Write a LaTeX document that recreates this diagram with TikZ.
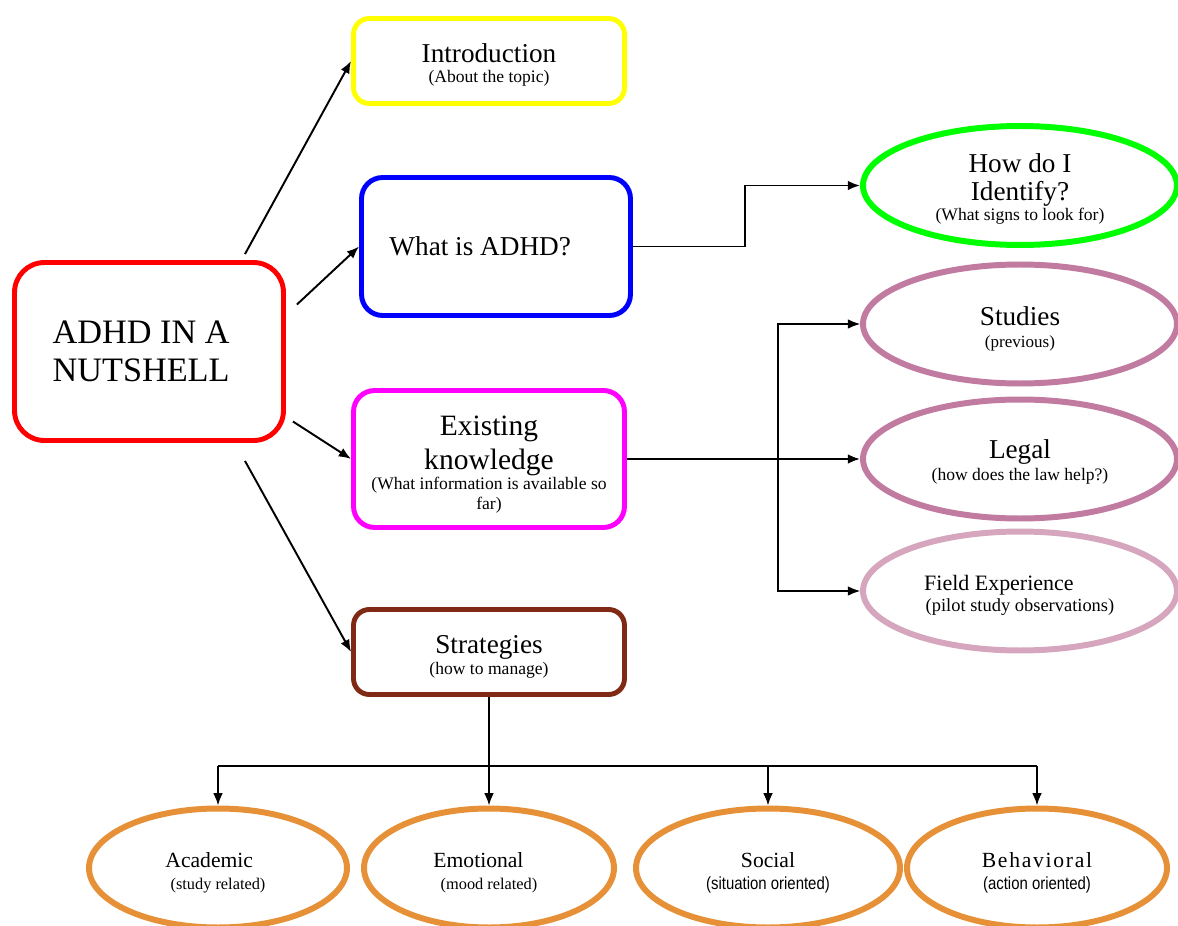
\documentclass[tikz,border=0pt]{standalone}
\usepackage{fontspec}
\setmainfont{Liberation Serif}
\newfontfamily\narrowsans[FakeStretch=0.85]{Liberation Sans}
\usetikzlibrary{shapes.geometric,arrows.meta}

\definecolor{mainred}{HTML}{FF0000}
\definecolor{introyellow}{HTML}{FFFF00}
\definecolor{whatblue}{HTML}{0000FF}
\definecolor{existmagenta}{HTML}{FF00FF}
\definecolor{stratbrown}{HTML}{802A15}
\definecolor{identgreen}{HTML}{00FF00}
\definecolor{studypink}{HTML}{C27BA0}
\definecolor{fieldpink}{HTML}{D5A6BD}
\definecolor{leaforange}{HTML}{E69138}

\newcommand{\boxhead}[2][15.5]{{\fontsize{#1}{18}\selectfont #2}}
\newcommand{\boxnote}[2][10]{{\fontsize{#1}{12}\selectfont #2}}
\newcommand{\toplift}[1]{\rule{0pt}{#1}}

\begin{document}
\begin{tikzpicture}[x=0.02cm,y=-0.02cm]
    \tikzset{topic/.style={draw, line width=2.8pt, rounded corners=9pt,
            align=center, inner sep=2pt, minimum width=5.42cm,
            font=\fontsize{10}{11.3}\selectfont},
        leaf/.style={draw, ellipse, line width=3.4pt, align=center,
            inner sep=0pt, minimum width=6.28cm, minimum height=2.38cm,
            font=\fontsize{10}{11.3}\selectfont},
        link/.style={line width=1.1pt, -{Latex[length=7pt,width=5.5pt]}},
        thinlink/.style={line width=0.6pt, -{Latex[length=7pt,width=5.5pt]}}}
    \useasboundingbox (0,0) rectangle (1178,926);

    \node[topic, draw=mainred, rounded corners=17pt, minimum width=5.38cm,
        minimum height=3.56cm, font=\fontsize{19.5}{22}\selectfont]
        (adhd) at (149,351.5) {ADHD IN A\hspace*{9pt}\\NUTSHELL\hspace*{9pt}};
    \node[topic, draw=introyellow, minimum height=1.7cm] (intro) at (489,61)
        {\toplift{15pt}\boxhead{Introduction}\\\boxnote{(About the topic)}};
    \node[topic, draw=whatblue, rounded corners=12pt, minimum width=5.38cm,
        minimum height=2.76cm, font=\fontsize{15.5}{18}\selectfont]
        (what) at (496,246.5) {What is ADHD?\hspace*{18pt}};
    \node[topic, draw=existmagenta, rounded corners=12pt, minimum height=2.74cm]
        (exist) at (489,459) {\toplift{17.7pt}\boxhead[16.8]{Existing}\\[3.2pt]
        \boxhead[16.8]{knowledge}\\
        \boxnote{(What information is available so}\\\boxnote{far)}};
    \node[topic, draw=stratbrown, minimum height=1.7cm] (strat) at (489,652)
        {\toplift{16.2pt}\boxhead{Strategies}\\[0.6pt]\boxnote{(how to manage)}};

    \node[leaf, draw=identgreen] (identify) at (1020,185.5)
        {\toplift{14.5pt}\boxhead{How do I}\\[4.6pt]\boxhead{Identify?}\\
        \boxnote{(What signs to look for)}};
    \node[leaf, draw=studypink] (studies) at (1020,324)
        {\toplift{16.2pt}\boxhead{Studies}\\[1.2pt]\boxnote[9.7]{(previous)}};
    \node[leaf, draw=studypink] (legal) at (1020,459)
        {\toplift{14pt}\boxhead{Legal}\\[1.7pt]\boxnote{(how does the law help?)}};
    \node[leaf, draw=fieldpink] (field) at (1020,591)
        {\toplift{13.7pt}\boxhead[12.5]{Field Experience}\hspace*{24pt}\\[0.7pt]
        \boxnote[10.5]{(pilot study observations)}};

    \node[leaf, draw=leaforange, minimum width=5.16cm] (academic) at (218,868)
        {\toplift{14.1pt}\boxhead[12.3]{Academic}\hspace*{10pt}\\[1.2pt]
        \boxnote[9.3]{(study related)}};
    \node[leaf, draw=leaforange, minimum width=5cm] (emotional) at (489,868)
        {\toplift{14.1pt}\boxhead[12.3]{Emotional}\hspace*{12pt}\\[1.2pt]
        \boxnote[9.3]{(mood related)}};
    \node[leaf, draw=leaforange, minimum width=5.28cm] (social) at (768,868)
        {\toplift{14.1pt}\boxhead[12.3]{Social}\\[1.2pt]
        \boxnote{\narrowsans (situation oriented)}};
    \node[leaf, draw=leaforange, minimum width=5.2cm] (behav) at (1037,868)
        {\toplift{14.1pt}\boxhead[12.3]{\addfontfeature{LetterSpace=8}Behavioral}\\[1.2pt]
        \boxnote{\narrowsans (action oriented)}};

    \draw[link] (adhd.north) ++(96,-6) -- (intro.west);
    \draw[link] (adhd.east) ++(11,-47) -- (what.west);
    \draw[link] (adhd.east) ++(7,70) -- (exist.west);
    \draw[link] (adhd.south) ++(96,18) -- (strat.west);

    \draw[link] (what.east) -- ++(112,0) |- (identify.west);
    \draw[link] (exist.east) -- (legal.west);
    \coordinate (bus) at (778,459);
    \draw[thinlink] (bus) |- (studies.west);
    \draw[thinlink] (bus) |- (field.west);

    \coordinate (hub) at (489,766);
    \draw[link] (strat.south) -- (emotional.north);
    \draw[line width=1.1pt] (academic.north |- hub) -- (behav.north |- hub);
    \foreach \leafname in {academic, social, behav}
        \draw[link] (\leafname.north |- hub) -- (\leafname.north);
\end{tikzpicture}
\end{document}
